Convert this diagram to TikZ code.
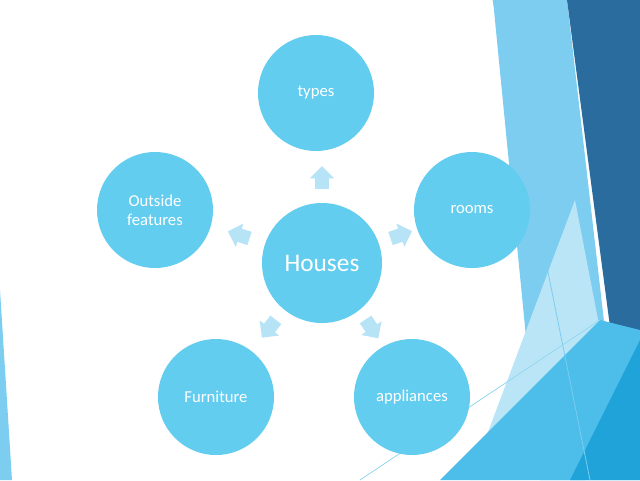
\documentclass[tikz,border=0pt]{standalone}
\usepackage{fontspec}
\setmainfont{Carlito}
\usetikzlibrary{shapes.arrows}
\definecolor{circ}{HTML}{63CDF0}
\definecolor{arr}{HTML}{B7E3F7}
\definecolor{bgA}{HTML}{7CCDF0}
\definecolor{bgDark}{HTML}{2B6C9E}
\definecolor{bgPale}{HTML}{B9E5F7}
\definecolor{bgMid}{HTML}{4DBDE9}
\definecolor{bgDeep}{HTML}{1FA3D9}
\definecolor{bgLine}{HTML}{96D7F0}
\begin{document}
\begin{tikzpicture}[x=0.75pt,y=-0.75pt,
  bub/.style={circle,fill=circ,minimum size=87pt,inner sep=0pt,text=white,font=\fontsize{12.5}{14}\selectfont,align=center},
  arw/.style={single arrow,fill=arr,single arrow head extend=4pt,minimum height=17pt,inner sep=5pt}]
\useasboundingbox (0,0) rectangle (640,480);
\fill[white] (0,0) rectangle (640,480);
% background decoration
\fill[bgA] (493,0)--(567,0)--(605,330)--(585,480)--(540,480)--cycle;
\fill[bgDark] (567,0)--(640,0)--(640,350)--(617,380)--cycle;
\fill[bgPale] (575,200)--(600,330)--(500,480)--(470,480)--cycle;
\fill[bgMid] (600,320)--(640,330)--(640,480)--(440,480)--cycle;
\fill[bgDeep] (640,340)--(640,480)--(570,480)--cycle;
\fill[bgA] (0,290)--(12,480)--(0,480)--cycle;
\draw[bgA,line width=0.6pt] (493,0)--(590,480);
\draw[bgLine,line width=0.6pt] (360,480)--(600,320);
% bubbles
\node[bub,minimum size=90pt,font=\fontsize{19}{22}\selectfont] (h) at (322,263) {Houses};
\node[bub] (t) at (316,93) {types};
\node[bub] (r) at (472,210) {rooms};
\node[bub] (a) at (412,397) {appliances};
\node[bub] (f) at (216,397) {Furniture};
\node[bub] (o) at (155,210) {Outside\\features};
% arrows
\node[arw,rotate=90] (a1) at (322,181) {};
\node[arw,rotate=19] (a2) at (398,236) {};
\node[arw,rotate=-56] (a3) at (370,326) {};
\node[arw,rotate=-128] (a4) at (271,326) {};
\node[arw,rotate=162] (a5) at (242,236) {};
\end{tikzpicture}
\end{document}
